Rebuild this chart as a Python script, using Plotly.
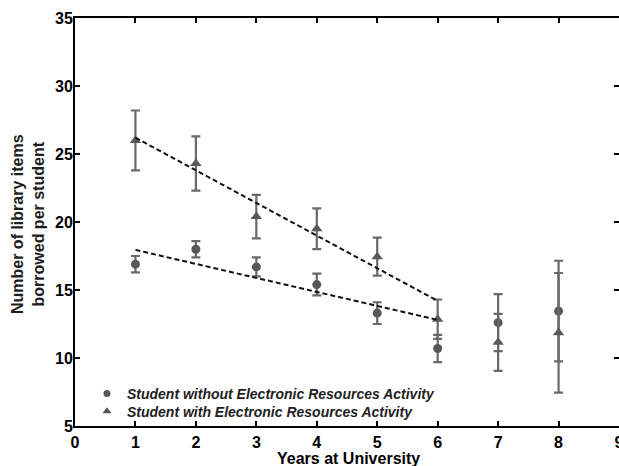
import plotly.graph_objects as go

# ---- data ----
years = [1, 2, 3, 4, 5, 6, 7, 8]
without_mean = [16.9, 18.0, 16.7, 15.4, 13.3, 10.7, 12.6, 13.45]
without_err = [0.6, 0.6, 0.7, 0.8, 0.8, 1.0, 2.1, 3.7]
with_mean = [26.0, 24.3, 20.4, 19.5, 17.45, 12.85, 11.15, 11.85]
with_err = [2.2, 2.0, 1.6, 1.5, 1.4, 1.45, 2.1, 4.4]
trend_x = [1, 6]
trend_without = [17.95, 12.8]
trend_with = [26.2, 14.2]
x_ticks = [0, 1, 2, 3, 4, 5, 6, 7, 8, 9]
y_ticks = [5, 10, 15, 20, 25, 30, 35]
name_without = "Student without Electronic Resources Activity"
name_with = "Student with Electronic Resources Activity"

FONT = "Liberation Sans, Arial, sans-serif"
MARK = "#585858"
ERR = "#696969"

fig = go.Figure()

fig.add_trace(go.Scatter(
    x=years, y=without_mean, mode="markers", showlegend=False,
    name=name_without,
    marker=dict(symbol="circle", size=9, color=MARK),
    error_y=dict(type="data", array=without_err, visible=True,
                 color=ERR, thickness=2.2, width=4.5),
))
fig.add_trace(go.Scatter(
    x=years, y=with_mean, mode="markers", showlegend=False,
    name=name_with,
    marker=dict(symbol="triangle-up", size=10, color=MARK),
    error_y=dict(type="data", array=with_err, visible=True,
                 color=ERR, thickness=2.2, width=4.5),
))
fig.add_trace(go.Scatter(
    x=trend_x, y=trend_with, mode="lines", showlegend=False,
    line=dict(color="#111111", width=2, dash="5px,3px"),
))
fig.add_trace(go.Scatter(
    x=trend_x, y=trend_without, mode="lines", showlegend=False,
    line=dict(color="#111111", width=2, dash="5px,3px"),
))
# legend entries (small symbols, as in the reference)
fig.add_trace(go.Scatter(
    x=[None], y=[None], yaxis="y2", mode="markers", name=name_without,
    marker=dict(symbol="circle", size=7, color=MARK), legend="legend",
))
fig.add_trace(go.Scatter(
    x=[None], y=[None], yaxis="y2", mode="markers", name=name_with,
    marker=dict(symbol="triangle-up", size=8, color=MARK), legend="legend2",
))

tickfont = dict(family=FONT, size=16, color="black", weight="bold")
legfont = dict(family=FONT, size=14, color="#1e1e1e", style="italic", weight="bold")

fig.update_layout(
    width=619, height=466,
    margin=dict(l=75, r=0, t=18, b=40, autoexpand=False),
    paper_bgcolor="white", plot_bgcolor="white",
    xaxis=dict(
        range=[0, 9], tickvals=x_ticks, ticklabelstandoff=1,
        ticklabeloverflow="allow", automargin=False,
        showgrid=False, zeroline=False,
        showline=True, linecolor="black", linewidth=2, mirror="ticks",
        ticks="inside", ticklen=5, tickwidth=1.5, tickcolor="black",
        tickfont=tickfont,
    ),
    yaxis=dict(
        range=[5, 35], tickvals=y_ticks, ticklabelstandoff=-3,
        automargin=False,
        showgrid=False, zeroline=False,
        showline=True, linecolor="black", linewidth=2, mirror=False,
        ticks="inside", ticklen=5, tickwidth=1.5, tickcolor="black",
        tickfont=tickfont,
    ),
    yaxis2=dict(
        range=[5, 35], tickvals=y_ticks, overlaying="y", side="right",
        automargin=False,
        showgrid=False, zeroline=False, showline=False,
        ticks="inside", ticklen=5, tickwidth=1.5, tickcolor="black",
        showticklabels=False,
    ),
    showlegend=True,
    legend=dict(
        x=0.022, y=(426 - 394) / 408, xanchor="left", yanchor="middle",
        bgcolor="rgba(0,0,0,0)", font=legfont, itemwidth=30,
    ),
    legend2=dict(
        x=0.022, y=(426 - 411.7) / 408, xanchor="left", yanchor="middle",
        bgcolor="rgba(0,0,0,0)", font=legfont, itemwidth=30,
    ),
    annotations=[
        dict(text="<b>Years at University</b>", xref="paper", yref="paper",
             x=0.502, y=0, yshift=-32, xanchor="center", yanchor="middle",
             showarrow=False, font=dict(family=FONT, size=16, color="black")),
        dict(text="<b>Number of library items<br>borrowed per student</b>",
             xref="paper", yref="paper", x=0, xshift=-47, y=0.495,
             xanchor="center", yanchor="middle", textangle=-90,
             showarrow=False, font=dict(family=FONT, size=16, color="#1e1e1e")),
    ],
)

fig.write_html("out.html")
